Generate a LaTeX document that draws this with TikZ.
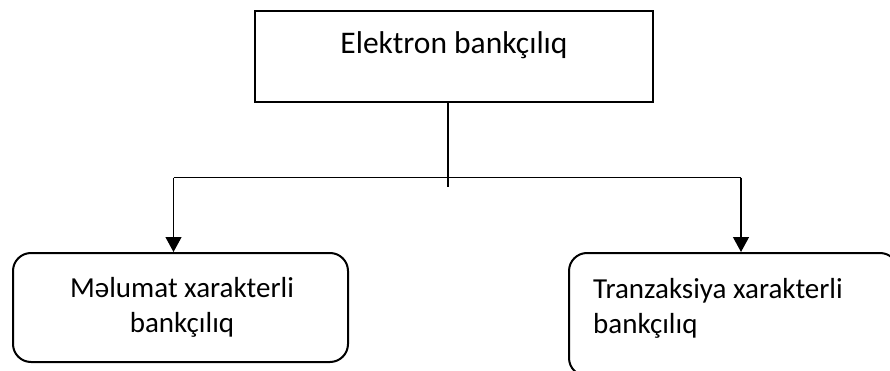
\documentclass[tikz,border=0pt]{standalone}
\usepackage{fontspec}
\setmainfont{Carlito}
\usetikzlibrary{arrows.meta}
\begin{document}
\begin{tikzpicture}[x=1pt,y=-1pt,
  box/.style={draw, line width=2.3pt, inner sep=0pt},
  roundbox/.style={draw, line width=2pt, inner sep=0pt, rounded corners=18pt},
  link/.style={line width=1.2pt},
  arrowlink/.style={link, -{Triangle[length=15pt,width=16pt]}},
  headtext/.style={inner sep=0pt, font=\fontsize{31.5}{38}\selectfont},
  boxtext/.style={inner sep=0pt, font=\fontsize{29}{34.5}\selectfont}]
\clip (0,0) rectangle (890,371);

% top box and its title
\node[box, minimum width=398pt, minimum height=91pt] (top) at (454,56.5) {};
\node[headtext, anchor=base] (title) at (454,54) {Elektron bankçılıq};

% lower boxes (the base anchor sits on the last line of each label)
\node[roundbox, minimum width=335pt, minimum height=109pt] (lbox) at (180.5,307.5) {};
\node[boxtext, align=center, anchor=base] (ltext) at (182,332) {Məlumat xarakterli\\bankçılıq};

\node[roundbox, minimum width=329pt, minimum height=123pt] (rbox) at (733.5,314.5) {};
\node[boxtext, align=left, anchor=base west] (rtext) at (593,333) {Tranzaksiya xarakterli\\bankçılıq};

% branch connectors
\coordinate (stem) at (448,187);
\coordinate (hl) at (173.5,177.7);
\coordinate (hr) at (741,177.7);
\draw[link] (stem |- top.south) -- (stem);
\draw[link] (hl) -- (hr);
\draw[arrowlink] (hl) -- (hl |- lbox.north);
\draw[arrowlink] (hr) -- (hr |- rbox.north);
\end{tikzpicture}
\end{document}
